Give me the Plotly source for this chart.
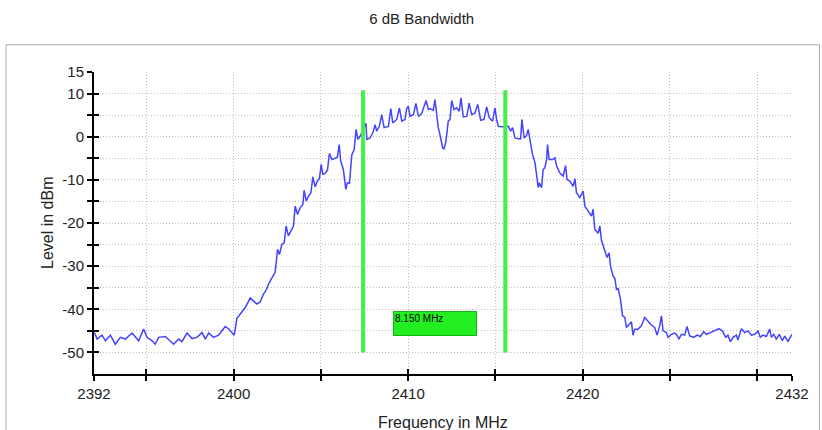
import plotly.graph_objects as go

# spectrum trace
freq_mhz = [
    2392.02, 2392.18, 2392.46, 2392.65, 2392.94, 2393.22, 2393.51, 2393.80, 2394.18, 2394.56,
    2394.84, 2395.04, 2395.33, 2395.51, 2395.70, 2396.09, 2396.56, 2396.85, 2397.04, 2397.33,
    2397.62, 2397.90, 2398.19, 2398.38, 2398.57, 2398.85, 2399.14, 2399.33, 2399.52, 2399.71,
    2399.90, 2400.04, 2400.19, 2400.48, 2400.67, 2400.95, 2401.14, 2401.34, 2401.52, 2401.71,
    2401.85, 2402.00, 2402.25, 2402.38, 2402.52, 2402.63, 2402.77, 2402.90, 2403.01, 2403.14,
    2403.28, 2403.43, 2403.53, 2403.66, 2403.81, 2403.97, 2404.04, 2404.16, 2404.29, 2404.43,
    2404.54, 2404.67, 2404.80, 2404.92, 2405.02, 2405.11, 2405.25, 2405.38, 2405.49, 2405.63,
    2405.82, 2405.95, 2406.05, 2406.14, 2406.29, 2406.43, 2406.52, 2406.64, 2406.77, 2406.91,
    2407.02, 2407.12, 2407.25, 2407.59, 2407.63, 2407.82, 2407.98, 2408.11, 2408.20, 2408.35,
    2408.49, 2408.62, 2408.87, 2409.01, 2409.12, 2409.25, 2409.35, 2409.50, 2409.64, 2409.82,
    2409.92, 2410.01, 2410.11, 2410.30, 2410.45, 2410.59, 2410.78, 2411.03, 2411.16, 2411.26,
    2411.44, 2411.54, 2411.64, 2411.73, 2411.87, 2411.98, 2412.06, 2412.17, 2412.30, 2412.40,
    2412.50, 2412.63, 2412.78, 2412.93, 2413.03, 2413.16, 2413.36, 2413.50, 2413.64, 2413.83,
    2413.99, 2414.16, 2414.35, 2414.50, 2414.65, 2414.84, 2414.98, 2415.07, 2415.17, 2415.36,
    2415.74, 2415.88, 2415.99, 2416.12, 2416.31, 2416.45, 2416.52, 2416.65, 2416.79, 2416.88,
    2416.98, 2417.13, 2417.27, 2417.36, 2417.46, 2417.51, 2417.65, 2417.74, 2417.84, 2417.94,
    2417.99, 2418.08, 2418.28, 2418.41, 2418.51, 2418.70, 2418.89, 2419.02, 2419.11, 2419.27,
    2419.46, 2419.56, 2419.65, 2419.84, 2420.03, 2420.13, 2420.32, 2420.51, 2420.60, 2420.70,
    2420.89, 2420.99, 2421.08, 2421.27, 2421.40, 2421.52, 2421.60, 2421.75, 2421.85, 2421.94,
    2422.04, 2422.17, 2422.29, 2422.42, 2422.51, 2422.66, 2422.80, 2422.89, 2422.99, 2423.18,
    2423.37, 2423.56, 2423.75, 2423.95, 2424.13, 2424.27, 2424.42, 2424.52, 2424.61, 2424.80,
    2424.90, 2425.09, 2425.28, 2425.41, 2425.52, 2425.66, 2425.85, 2425.98, 2426.14, 2426.37,
    2426.56, 2426.75, 2426.94, 2427.09, 2427.32, 2427.57, 2427.81, 2428.01, 2428.20, 2428.33,
    2428.47, 2428.62, 2428.81, 2428.90, 2429.10, 2429.29, 2429.48, 2429.67, 2429.86, 2430.05,
    2430.18, 2430.33, 2430.53, 2430.72, 2430.82, 2430.95, 2431.10, 2431.27, 2431.45, 2431.58,
    2431.77, 2431.90, 2432.00,
]
level_dbm = [
    -45.4, -46.9, -46.0, -47.3, -46.0, -48.1, -46.5, -46.9, -45.5, -47.3,
    -44.6, -46.5, -47.3, -48.1, -46.5, -46.3, -48.1, -46.9, -47.5, -45.5,
    -46.8, -46.5, -45.4, -46.9, -45.5, -46.5, -46.0, -45.0, -44.0, -44.5,
    -45.5, -46.0, -42.1, -40.7, -39.6, -37.4, -38.1, -38.8, -38.3, -36.5,
    -35.7, -34.2, -32.3, -31.5, -26.1, -27.3, -24.9, -24.6, -20.7, -23.0,
    -21.9, -20.7, -16.1, -18.0, -16.5, -15.7, -12.4, -14.9, -13.8, -13.0,
    -9.3, -11.6, -10.3, -9.7, -6.4, -8.7, -8.5, -7.7, -3.9, -5.3,
    -5.0, -4.7, -1.8, -5.7, -7.6, -12.2, -10.7, -10.8, -4.3, -3.0,
    1.7, -0.6, 0.1, 3.1, -0.6, -0.3, 0.9, 2.8, 1.3, 2.4,
    5.1, 2.1, 2.4, 6.5, 3.2, 3.6, 4.0, 6.7, 3.6, 4.0,
    6.5, 7.1, 4.7, 5.1, 7.7, 4.7, 5.4, 8.4, 6.3, 6.5,
    6.1, 8.6, 5.5, 2.1, -0.3, -2.6, -2.8, -1.0, 3.6, 4.0,
    8.4, 6.3, 6.7, 5.9, 9.0, 4.6, 4.7, 7.8, 5.1, 5.5,
    7.5, 3.8, 4.0, 6.9, 4.4, 3.6, 6.7, 4.0, 2.4, 2.3,
    2.4, 1.3, 2.1, -0.3, -0.5, -0.5, 4.0, -0.3, 0.3, 1.7,
    -0.6, -4.1, -6.0, -9.1, -11.8, -10.7, -11.8, -7.6, -7.2, -5.3,
    -1.8, -5.3, -5.3, -4.9, -6.8, -8.4, -9.1, -6.7, -9.9, -10.3,
    -11.5, -9.7, -13.0, -14.1, -12.6, -16.1, -17.2, -18.4, -16.8, -21.5,
    -22.4, -20.7, -24.0, -26.1, -28.0, -26.9, -30.0, -32.3, -32.9, -35.4,
    -35.2, -37.7, -41.5, -41.9, -44.2, -43.5, -42.9, -46.0, -44.6, -44.6,
    -43.8, -41.9, -42.9, -43.7, -44.2, -46.0, -43.8, -41.5, -45.0, -45.4,
    -46.5, -45.8, -45.5, -46.0, -46.9, -45.8, -46.0, -44.0, -46.2, -46.5,
    -46.0, -46.3, -45.2, -45.8, -45.4, -45.0, -44.5, -45.0, -46.5, -46.0,
    -47.5, -46.5, -46.0, -47.1, -44.5, -45.4, -45.0, -46.0, -45.8, -45.0,
    -46.5, -46.0, -46.3, -44.6, -46.5, -45.8, -46.9, -45.8, -47.3, -46.2,
    -47.5, -46.5, -45.8,
]

# 6 dB bandwidth markers
bw_edges_mhz = [2407.42, 2415.57]
bw_marker_span_dbm = [-50.0, 10.75]
bw_label = "8.150 MHz"
bw_label_mhz = 2411.56
bw_label_dbm = -43.3

x_ticks = [2392, 2395, 2400, 2405, 2410, 2415, 2420, 2425, 2430, 2432]
x_tick_text = ["2392", "", "2400", "", "2410", "", "2420", "", "", "2432"]
y_ticks = [-50, -45, -40, -35, -30, -25, -20, -15, -10, -5, 0, 5, 10, 15]
y_tick_text = ["-50", "", "-40", "", "-30", "", "-20", "", "-10", "", "0", "", "10", "15"]

FONT = "Liberation Sans, Arial, sans-serif"

fig = go.Figure()
fig.add_trace(go.Scatter(x=freq_mhz, y=level_dbm, mode="lines",
                         line=dict(color="#4444ff", width=1.5), showlegend=False))
for f in bw_edges_mhz:
    fig.add_trace(go.Scatter(x=[f, f], y=bw_marker_span_dbm, mode="lines",
                             line=dict(color="#44f044", width=4), showlegend=False))
# dummy trace so the overlay axes (inner half of the crossing ticks) are drawn
fig.add_trace(go.Scatter(x=[], y=[], xaxis="x2", yaxis="y2", showlegend=False))

fig.add_annotation(x=bw_label_mhz, y=bw_label_dbm, text=bw_label, showarrow=False,
                   xanchor="center", yanchor="middle", align="left", valign="top",
                   width=80, height=21, borderpad=1, borderwidth=1,
                   bgcolor="#22ee22", bordercolor="#18b018",
                   font=dict(family=FONT, size=10, color="#000000"))

axis_common = dict(showline=True, linecolor="#000000", linewidth=2, mirror=False,
                   ticks="outside", ticklen=5, tickwidth=1.5, tickcolor="#000000",
                   tickfont=dict(family=FONT, size=15, color="#222222"),
                   showgrid=True, gridcolor="#c0c0c0", griddash="1px,2px", gridwidth=1,
                   zeroline=False, tickmode="array")

fig.update_layout(
    width=822, height=430,
    margin=dict(l=94, r=30, t=72, b=56),
    paper_bgcolor="white", plot_bgcolor="white",
    title=dict(text="6 dB Bandwidth", x=0.513, y=0.956, xanchor="center", yanchor="middle",
               font=dict(family=FONT, size=15, color="#222222")),
    xaxis=dict(range=[2392, 2432], tickvals=x_ticks, ticktext=x_tick_text, **axis_common),
    yaxis=dict(range=[-55, 15], tickvals=y_ticks, ticktext=y_tick_text, **axis_common),
    xaxis2=dict(range=[2392, 2432], overlaying="x", anchor="y2", side="bottom",
                tickmode="array", tickvals=x_ticks, showticklabels=False, showgrid=False,
                zeroline=False, showline=False, ticks="inside", ticklen=5, tickwidth=1.5,
                tickcolor="#000000"),
    yaxis2=dict(range=[-55, 15], overlaying="y", anchor="x2", side="left",
                tickmode="array", tickvals=y_ticks, showticklabels=False, showgrid=False,
                zeroline=False, showline=False, ticks="inside", ticklen=5, tickwidth=1.5,
                tickcolor="#000000"),
    annotations=list(fig.layout.annotations) + [
        dict(text="Level in dBm", xref="paper", yref="paper", x=0, y=0.5, xshift=-47,
             textangle=-90, showarrow=False, xanchor="center", yanchor="middle",
             font=dict(family=FONT, size=16, color="#222222")),
        dict(text="Frequency in MHz", xref="paper", yref="paper", x=0.5, y=0, yshift=-48,
             showarrow=False, xanchor="center", yanchor="middle",
             font=dict(family=FONT, size=16, color="#222222")),
    ],
    shapes=[dict(type="rect", xref="paper", yref="paper", x0=-0.126, x1=1.0395,
                 y0=-0.5, y1=1.09, line=dict(color="#a8a8a8", width=1), layer="below")],
)

# the page body has a default 8px margin; drop it so the figure sits at the window origin
fig.write_html("out.html", config={"displayModeBar": False},
               post_script="document.body.style.margin='0';")
